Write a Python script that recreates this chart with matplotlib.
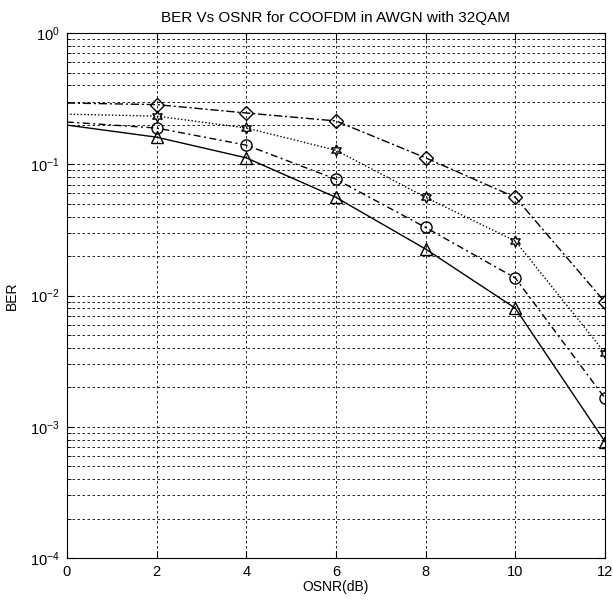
import numpy as np
import matplotlib.pyplot as plt
from matplotlib.ticker import LogLocator, NullFormatter

plt.rcParams['font.family'] = 'Liberation Sans'
plt.rcParams['font.size'] = 10
plt.rcParams['mathtext.fontset'] = 'custom'
plt.rcParams['mathtext.rm'] = 'Liberation Sans'

# OSNR points and BER for each curve
osnr = [0, 2, 4, 6, 8, 10, 12]
ber_diamond = [0.293, 0.285, 0.246, 0.214, 0.112, 0.056, 0.0089]
ber_hexagram = [0.241, 0.233, 0.189, 0.128, 0.056, 0.026, 0.00365]
ber_circle = [0.21, 0.189, 0.140, 0.077, 0.033, 0.0136, 0.00165]
ber_triangle = [0.199, 0.161, 0.112, 0.056, 0.0226, 0.008, 0.00077]

fig = plt.figure(figsize=(6.13, 6.01), dpi=100)
ax = fig.add_axes([0.109, 0.0715, 0.878, 0.8735])

# markers only from 2 dB onwards
marks = list(range(1, len(osnr)))
mk = dict(markerfacecolor='none', markeredgecolor='k', markeredgewidth=1.0,
          color='k', linewidth=1.0, markevery=marks)
ax.semilogy(osnr, ber_diamond, marker='D', markersize=7,
            linestyle=(0, (6, 2, 1.5, 2)), **mk)
ax.semilogy(osnr, ber_hexagram, marker=(6, 1, 0), markersize=8,
            linestyle=(0, (1, 1.5)), **mk)
ax.semilogy(osnr, ber_circle, marker='o', markersize=8,
            linestyle=(0, (5, 2.5, 1.5, 2.5)), **mk)
ax.semilogy(osnr, ber_triangle, marker='^', markersize=8, linestyle='-', **mk)

ax.set_xlim(0, 12)
ax.set_ylim(1e-4, 1e0)
ax.set_xticks(range(0, 13, 2))
ax.yaxis.set_major_locator(LogLocator(base=10, numticks=10))
ax.yaxis.set_minor_locator(LogLocator(base=10, subs=np.arange(2, 10), numticks=10))
ax.yaxis.set_minor_formatter(NullFormatter())

ax.grid(True, which='major', color='k', linestyle=(0, (3, 3)), linewidth=0.6)
ax.grid(True, which='minor', axis='y', color='k', linestyle=(0, (3, 3)), linewidth=0.6)
ax.tick_params(which='both', direction='in', top=True, right=True)
ax.tick_params(which='major', length=5, labelsize=10.5, pad=5)
ax.tick_params(which='minor', length=3)

ax.set_title('BER Vs OSNR for COOFDM in AWGN with 32QAM', fontsize=11, pad=8)
ax.set_xlabel('OSNR(dB)', fontsize=10, labelpad=1)
ax.set_ylabel('BER', fontsize=10, labelpad=8)

plt.savefig('out.png', dpi=100)
